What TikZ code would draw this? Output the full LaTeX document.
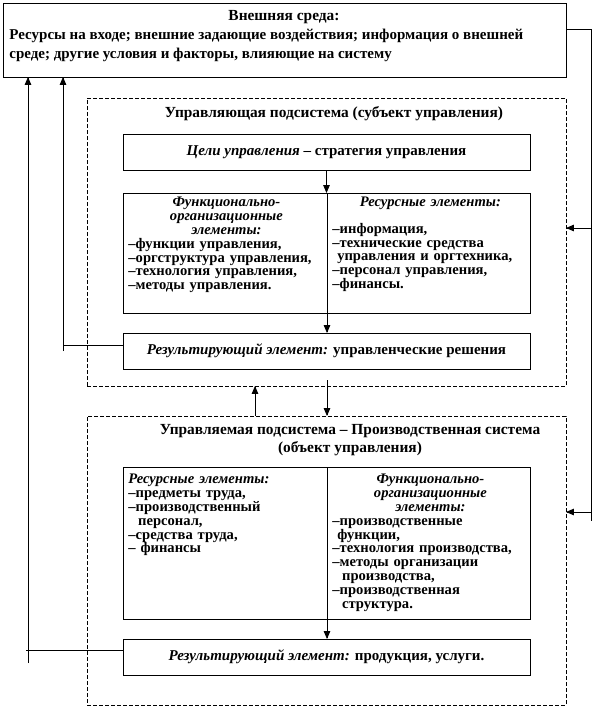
\documentclass[tikz,border=0pt]{standalone}
\usepackage{fontspec}
\setmainfont{Liberation Serif}
\usetikzlibrary{positioning, arrows}

\newcommand{\bi}[1]{\textit{#1}}

\begin{document}
\begin{tikzpicture}[x=1pt, y=-1pt, >=triangle 45, line width=0.8pt,
    box/.style={draw, rectangle, inner sep=0pt, outer sep=0pt, anchor=north west},
    dbox/.style={box, dash pattern=on 4pt off 2pt},
    lst/.style={anchor=north west, inner sep=0pt, font=\bfseries\fontsize{14.6}{13.8}\selectfont},
    one/.style={font=\bfseries\fontsize{15}{16}\selectfont},
    hdr/.style={inner sep=0pt, font=\bfseries\fontsize{15.4}{18}\selectfont}]
    \useasboundingbox (0,0) rectangle (592,707);

    % external environment
    \node[box, minimum width=563, minimum height=74] (env) at (3,3) {};
    \node[hdr, anchor=north] (envT) at (284,10) {Внешняя среда:};
    \node[hdr, anchor=north west, align=left, font=\bfseries\fontsize{15}{19}\selectfont] (envL) at (9,29)
        {Ресурсы на входе; внешние задающие воздействия; информация о внешней\\
         среде; другие условия и факторы, влияющие на систему};

    % managing subsystem
    \node[dbox, minimum width=479, minimum height=288] (ctl) at (87,98) {};
    \node[hdr, anchor=north] (ctlT) at (334,106) {Управляющая подсистема (субъект управления)};
    \node[box, one, minimum width=407, minimum height=36] (goal) at (123,134)
        {\bi{Цели управления} – стратегия управления};
    \node[box, minimum width=204, minimum height=120] (fnA) at (123,193) {};
    \node[box, minimum width=203, minimum height=120] (resA) at (327,193) {};
    \node[lst, text width=196] (fnAt) at (128,197)
        {\centering\itshape Функционально-\\организационные\\элементы:\par
         \raggedright\upshape
         –функции управления,\\–оргструктура управления,\\–технология управления,\\–методы управления.};
    \node[lst, text width=196] (resAt) at (332,197)
        {\centering\itshape Ресурсные элементы:\par\vspace{12.5pt}
         \raggedright\upshape
         –информация,\\–технические средства\\~управления и оргтехника,\\–персонал управления,\\–финансы.};
    \node[box, one, minimum width=407, minimum height=36] (resultA) at (123,333)
        {\bi{Результирующий элемент:} управленческие решения};

    % managed subsystem
    \node[dbox, minimum width=479, minimum height=289] (obj) at (87,416) {};
    \node[hdr, anchor=north, align=center] (objT) at (350,424)
        {Управляемая подсистема – Производственная система\\(объект управления)};
    \node[box, minimum width=204, minimum height=152] (resB) at (123,467) {};
    \node[box, minimum width=203, minimum height=152] (fnB) at (327,467) {};
    \node[lst, text width=196] (resBt) at (128,474)
        {\bi{Ресурсные элементы:}\\–предметы труда,\\–производственный\\~~персонал,\\–средства труда,\\– финансы};
    \node[lst, text width=196] (fnBt) at (332,474)
        {\centering\itshape Функционально-\\организационные\\элементы:\par
         \raggedright\upshape
         –производственные\\~функции,\\–технология производства,\\–методы организации\\~~производства,\\–производственная\\~~структура.};
    \node[box, one, minimum width=407, minimum height=36] (resultB) at (123,639)
        {\bi{Результирующий элемент:} продукция, услуги.};

    % arrows inside
    \draw[->] (goal.south) -- (goal.south |- fnA.north);
    \draw[->] (fnA.south east) -- (fnA.south east |- resultA.north);
    \draw[->] (fnB.south west) -- (fnB.south west |- resultB.north);
    \coordinate (dn) at (327,380);
    \coordinate (up) at (255,416);
    \draw[->] (dn) -- (dn |- obj.north);
    \draw[->] (up) -- (up |- ctl.south);

    % feedback on the right
    \coordinate (rt) at (591,29);
    \coordinate (rb) at (591,521);
    \coordinate (inA) at (591,228);
    \coordinate (inB) at (591,512);
    \draw (env.east |- rt) -- (rt) -- (rb);
    \draw[->] (inA) -- (inA -| ctl.east);
    \draw[->] (inB) -- (inB -| obj.east);

    % results back to the environment
    \coordinate (lA) at (63,351);
    \coordinate (lB) at (28,663);
    \draw[->] (lA) -- (lA |- env.south);
    \draw[->] (lB) -- (lB |- env.south);
    \draw ([yshift=6pt]resultA.west) -- ([yshift=6pt]resultA.west -| lA);
    \draw ([yshift=7pt]resultB.west) -- ++(-97,0);
\end{tikzpicture}
\end{document}
